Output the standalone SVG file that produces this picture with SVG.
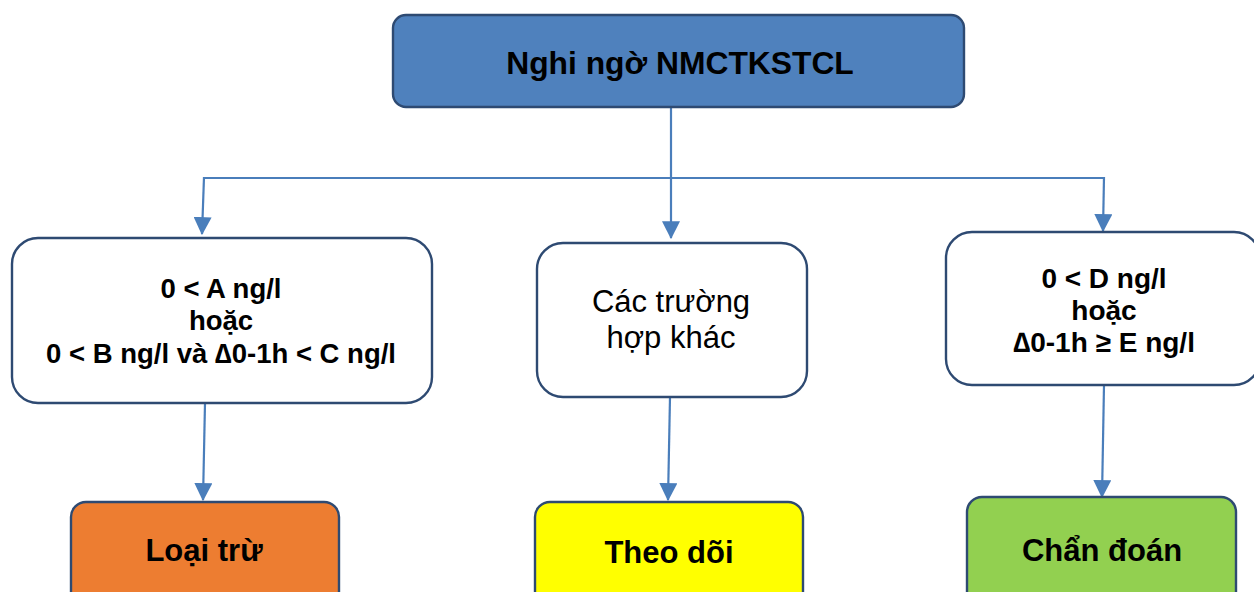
<svg xmlns="http://www.w3.org/2000/svg" width="1254" height="592" viewBox="0 0 1254 592">
  <style>
    .box { stroke: #2E4A72; stroke-width: 2.4; }
    .lbl { font-family: "Liberation Sans", Arial, sans-serif; fill: #000; text-anchor: middle; }
    .b { font-weight: bold; }
    .link { fill: none; stroke: #4A7EBB; stroke-width: 2.2; }
  </style>
  <defs>
    <marker id="arrow" markerUnits="userSpaceOnUse" markerWidth="18" markerHeight="18" viewBox="0 0 16 16" refX="15" refY="8" orient="auto">
      <path d="M0,0 L16,8 L0,16 Z" fill="#4A7EBB"/>
    </marker>
  </defs>
  <rect width="1254" height="592" fill="#FFFFFF"/>

  <!-- connectors -->
  <g id="connectors">
    <line class="link" x1="671" y1="107" x2="671" y2="238" marker-end="url(#arrow)"/>
    <line class="link" x1="204" y1="178" x2="1105" y2="178"/>
    <line class="link" x1="204" y1="177" x2="202" y2="234" marker-end="url(#arrow)"/>
    <line class="link" x1="1104" y1="177" x2="1103" y2="231" marker-end="url(#arrow)"/>
    <line class="link" x1="205" y1="403" x2="203" y2="500" marker-end="url(#arrow)"/>
    <line class="link" x1="670" y1="397" x2="668" y2="500" marker-end="url(#arrow)"/>
    <line class="link" x1="1104" y1="385" x2="1102" y2="497" marker-end="url(#arrow)"/>
  </g>

  <!-- top node -->
  <g id="suspect">
    <rect class="box" x="393" y="15" width="571" height="92" rx="13" fill="#4F81BD"/>
    <text class="lbl b" x="680" y="74" font-size="31.8">Nghi ngờ NMCTKSTCL</text>
  </g>

  <!-- middle row -->
  <g id="rule-out-criteria">
    <rect class="box" x="12" y="238" width="420" height="165" rx="26" fill="#FFFFFF"/>
    <text class="lbl b" x="221" y="298" font-size="27.5">0 &lt; A ng/l</text>
    <text class="lbl b" x="221" y="330" font-size="27.5">hoặc</text>
    <text class="lbl b" x="221" y="363" font-size="27.5">0 &lt; B ng/l và ∆0-1h &lt; C ng/l</text>
  </g>

  <g id="other-cases">
    <rect class="box" x="537" y="243" width="270" height="154" rx="26" fill="#FFFFFF"/>
    <text class="lbl" x="671" y="312" font-size="31">Các trường</text>
    <text class="lbl" x="671" y="348" font-size="31">hợp khác</text>
  </g>

  <g id="rule-in-criteria">
    <rect class="box" x="946" y="232" width="314" height="153" rx="26" fill="#FFFFFF"/>
    <text class="lbl b" x="1104" y="288" font-size="28">0 &lt; D ng/l</text>
    <text class="lbl b" x="1104" y="320" font-size="28">hoặc</text>
    <text class="lbl b" x="1104" y="352" font-size="28">∆0-1h ≥ E ng/l</text>
  </g>

  <!-- bottom row -->
  <g id="rule-out">
    <rect class="box" x="71" y="502" width="268" height="110" rx="15" fill="#ED7D31"/>
    <text class="lbl b" x="204" y="561" font-size="31">Loại trừ</text>
  </g>

  <g id="observe">
    <rect class="box" x="535" y="502" width="268" height="110" rx="15" fill="#FFFF00"/>
    <text class="lbl b" x="669" y="563" font-size="31">Theo dõi</text>
  </g>

  <g id="rule-in">
    <rect class="box" x="967" y="497" width="269" height="115" rx="15" fill="#92D050"/>
    <text class="lbl b" x="1102" y="561" font-size="31">Chẩn đoán</text>
  </g>
</svg>
